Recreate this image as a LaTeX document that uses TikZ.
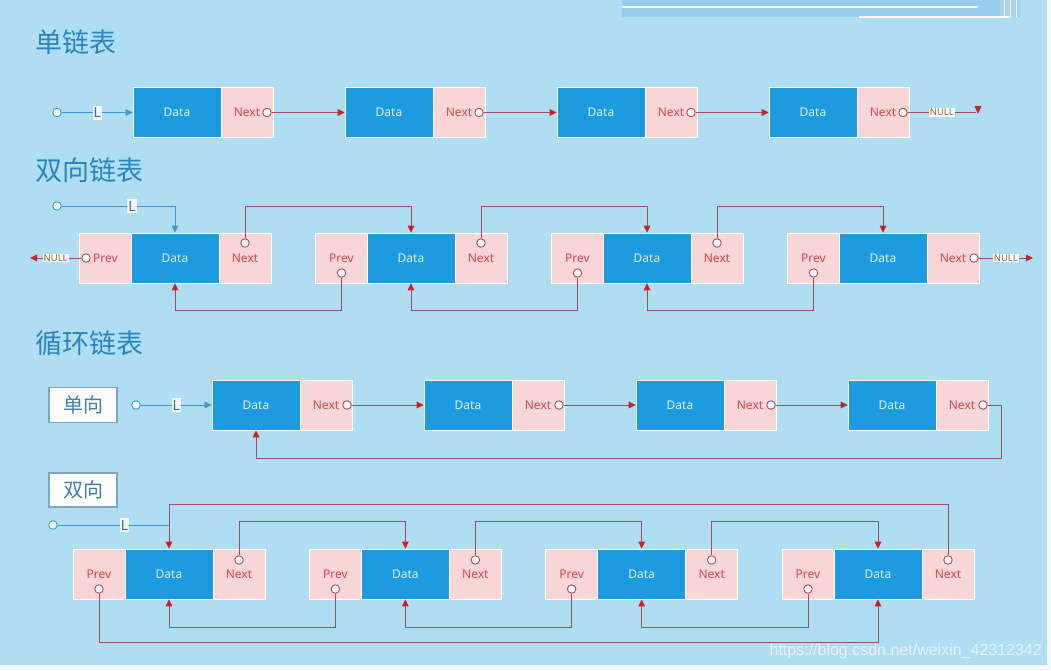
\documentclass[tikz,border=0pt]{standalone}
\usepackage{fontspec}
\setmainfont{Noto Sans}
\newfontfamily\cjk{Noto Sans CJK SC}
\newfontfamily\wmfont{Liberation Sans}
\usetikzlibrary{arrows.meta,calc}
\definecolor{bgc}{HTML}{AFDDF2}
\definecolor{outerc}{HTML}{F4F8FA}
\definecolor{dblue}{HTML}{1C9BE0}
\definecolor{dtxt}{HTML}{DDF0FA}
\definecolor{pinkc}{HTML}{F8D5D6}
\definecolor{txtred}{HTML}{D4474C}
\definecolor{lred}{HTML}{A24C62}
\definecolor{ared}{HTML}{CC1F26}
\definecolor{lblue}{HTML}{3D98D3}
\definecolor{titlec}{HTML}{2B86BE}
\definecolor{decoc}{HTML}{96CBEE}
\definecolor{decoc2}{HTML}{A6D3F1}
\definecolor{boxtxt}{HTML}{3B7FAE}
\definecolor{boxline}{HTML}{7BA7C4}
\definecolor{ltxt}{HTML}{4A6A80}
\definecolor{nulltxt}{HTML}{9A5A2A}
\tikzset{
  databox/.style={rectangle, fill=dblue, draw=white, line width=0.6pt, minimum width=88pt, minimum height=50pt, inner sep=0pt, text=dtxt, font=\fontsize{12}{12}\selectfont},
  pinkbox/.style={rectangle, fill=pinkc, draw=white, line width=0.6pt, minimum width=52pt, minimum height=50pt, inner sep=0pt, text=txtred, font=\fontsize{12}{12}\selectfont},
  rdot/.style={circle, draw=lred, fill=white, line width=0.9pt, minimum size=8.5pt, inner sep=0pt},
  bdot/.style={circle, draw=lblue, fill=white, line width=0.9pt, minimum size=8.5pt, inner sep=0pt},
  rline/.style={draw=lred, line width=1pt},
  rarrow/.style={rline, -{Triangle[length=7pt,width=6.5pt,color=ared]}},
  bline/.style={draw=lblue, line width=1pt},
  barrow/.style={bline, -{Triangle[length=7pt,width=6.5pt,color=lblue]}},
  lbl/.style={fill=white, fill opacity=0.85, text opacity=1, text=ltxt, inner xsep=1pt, inner ysep=2pt, font=\fontsize{14}{14}\selectfont},
  nulllbl/.style={fill=white, text=nulltxt, inner xsep=0.8pt, inner ysep=0.8pt, font=\fontsize{9.5}{9.5}\selectfont},
  titletxt/.style={text=titlec, font=\cjk\fontsize{27}{28}\selectfont, anchor=west, inner sep=0pt},
  tagbox/.style={rectangle, draw=boxline, fill=white, line width=1.4pt, minimum width=68pt, minimum height=35pt, inner sep=0pt, text=boxtxt, font=\cjk\fontsize{20}{20}\selectfont},
}
\begin{document}
\begin{tikzpicture}[x=1pt, y=-1pt]
\useasboundingbox (0,0) rectangle (1051,670);
% background
\fill[outerc] (0,0) rectangle (1051,670);
\fill[bgc] (0,0) rectangle (1047,665);
% top decoration
\fill[decoc] (622,0) rectangle (1000,17);
\fill[decoc2] (1000,0) rectangle (1020,17);
\draw[white, line width=0.8pt] (1004,0) -- (1004,17) (1010,0) -- (1010,17) (1016,0) -- (1016,17);
\draw[white, line width=2pt] (622,7) -- (978,7);
\draw[white, line width=2pt] (859,16.5) -- (1010,16.5);

% ================= Row 1: single linked list
\node[titletxt] (t1) at (35,42) {单链表};
\foreach \i in {0,1,2,3} {
  \node[databox] (D1\i) at ({177+212*\i},112.5) {Data};
  \node[pinkbox] (N1\i) at ({247+212*\i},112.5) {Next};
  \node[rdot] (c1\i) at ({267+212*\i},112.5) {};
}
\node[bdot] (l1) at (57,112.5) {};
\draw[barrow] (l1) -- node[lbl] {L} (D10.west);
\draw[rarrow] (c10) -- (D11.west);
\draw[rarrow] (c11) -- (D12.west);
\draw[rarrow] (c12) -- (D13.west);
\coordinate (null1) at (976,112.5);
\draw[rline] (c13) -- node[nulllbl] {NULL} (null1);
\fill[ared] (974.5,106) -- (981.5,106) -- (978,114) -- cycle;

% ================= Row 2: doubly linked list
\node[titletxt] (t2) at (35,170) {双向链表};
\foreach \i in {0,1,2,3} {
  \node[pinkbox] (P2\i) at ({105.5+236*\i},258) {Prev};
  \node[databox] (D2\i) at ({175+236*\i},258) {Data};
  \node[pinkbox] (N2\i) at ({245+236*\i},258) {Next};
}
\node[rdot] (cp20) at (86,258) {};
\node[rdot] (cp21) at (341.5,273) {};
\node[rdot] (cp22) at (577.5,273) {};
\node[rdot] (cp23) at (813.5,273) {};
\node[rdot] (cn20) at (245,243) {};
\node[rdot] (cn21) at (481,243) {};
\node[rdot] (cn22) at (717,243) {};
\node[rdot] (cn23) at (974,258) {};
\node[bdot] (l2) at (57,206) {};
\draw[barrow] (l2) -- node[lbl, pos=0.62] {L} (l2 -| D20.north) -- (D20.north);
\draw[rarrow] (cn20) |- ([yshift=26pt]D21.north) -- (D21.north);
\draw[rarrow] (cn21) |- ([yshift=26pt]D22.north) -- (D22.north);
\draw[rarrow] (cn22) |- ([yshift=26pt]D23.north) -- (D23.north);
\draw[rarrow] (cp21) |- ([yshift=-27pt]D20.south) -- (D20.south);
\draw[rarrow] (cp22) |- ([yshift=-27pt]D21.south) -- (D21.south);
\draw[rarrow] (cp23) |- ([yshift=-27pt]D22.south) -- (D22.south);
\coordinate (nullL) at (30,258);
\coordinate (nullR) at (1033,258);
\draw[rarrow] (cp20) -- node[nulllbl] {NULL} (nullL);
\draw[rarrow] (cn23) -- node[nulllbl] {NULL} (nullR);

% ================= Row 3: circular list, single
\node[titletxt] (t3) at (35,343) {循环链表};
\node[tagbox] (tag1) at (83,405) {单向};
\foreach \i in {0,1,2,3} {
  \node[databox] (D3\i) at ({256+212*\i},405) {Data};
  \node[pinkbox] (N3\i) at ({326+212*\i},405) {Next};
  \node[rdot] (c3\i) at ({347+212*\i},405) {};
}
\node[bdot] (l3) at (136,405) {};
\draw[barrow] (l3) -- node[lbl] {L} (D30.west);
\draw[rarrow] (c30) -- (D31.west);
\draw[rarrow] (c31) -- (D32.west);
\draw[rarrow] (c32) -- (D33.west);
\coordinate (r3) at (1001,405);
\draw[rarrow] (c33) -- (r3) |- ([yshift=-28pt]D30.south) -- (D30.south);

% ================= Row 4: circular list, double
\node[tagbox, minimum height=34pt] (tag2) at (83,490) {双向};
\foreach \i in {0,1,2,3} {
  \node[pinkbox] (P4\i) at ({99+236.33*\i},574) {Prev};
  \node[databox] (D4\i) at ({169+236.33*\i},574) {Data};
  \node[pinkbox] (N4\i) at ({239+236.33*\i},574) {Next};
  \node[rdot] (cp4\i) at ({99+236.33*\i},589) {};
  \node[rdot] (cn4\i) at ({239+236.33*\i},560) {};
}
\draw[rarrow] (cn40) |- ([yshift=27pt]D41.north) -- (D41.north);
\draw[rarrow] (cn41) |- ([yshift=27pt]D42.north) -- (D42.north);
\draw[rarrow] (cn42) |- ([yshift=27pt]D43.north) -- (D43.north);
\draw[rarrow] (cn43) |- ([yshift=44pt]D40.north) -- (D40.north);
\draw[rarrow] (cp41) |- ([yshift=-28pt]D40.south) -- (D40.south);
\draw[rarrow] (cp42) |- ([yshift=-28pt]D41.south) -- (D41.south);
\draw[rarrow] (cp43) |- ([yshift=-28pt]D42.south) -- (D42.south);
\draw[rarrow] (cp40) |- ([yshift=-43pt]D43.south) -- (D43.south);
\node[bdot] (l4) at (53,525) {};
\coordinate (j4) at (l4 -| D40.north);
\draw[bline] (l4) -- node[lbl, pos=0.6] {L} (j4);

% watermark
\node[text=white, text opacity=0.7, font=\wmfont\fontsize{16}{17}\selectfont, inner sep=0pt, anchor=east] (wm) at (1042,651) {https://blog.csdn.net/weixin\_42312342};
\end{tikzpicture}
\end{document}
